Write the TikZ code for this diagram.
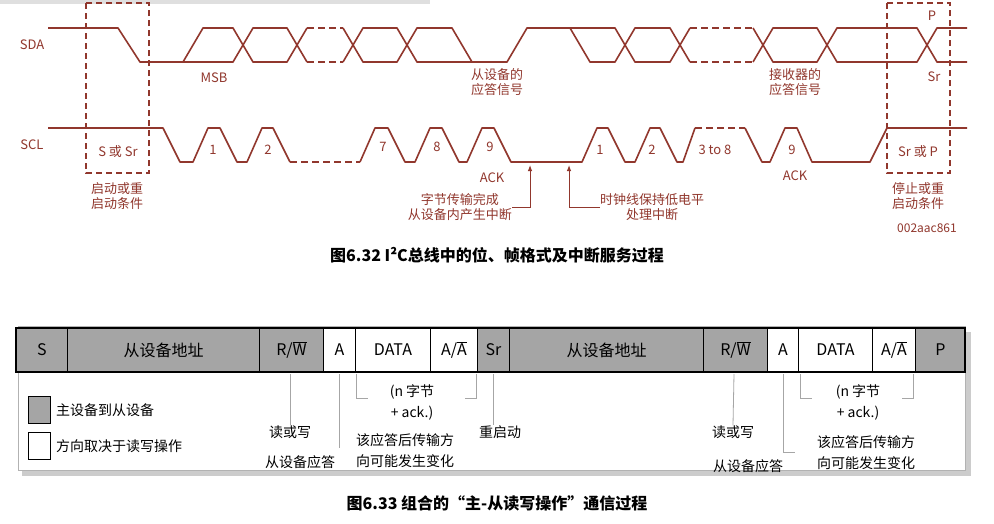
\documentclass[tikz,border=0pt]{standalone}
\usepackage{fontspec}
\setmainfont{Noto Sans CJK SC}
\usetikzlibrary{arrows.meta}
\definecolor{wave}{RGB}{145,55,45}
\definecolor{cellg}{RGB}{165,165,165}
\newcommand\rwtxt{R/$\overline{\hbox{W}}$}
\newcommand\aatxt{A/$\overline{\hbox{A}}$}
\begin{document}
\begin{tikzpicture}[x=1pt,y=-1pt,
  w/.style={draw=wave,line width=1.6pt,line join=round},
  wd/.style={w,dash pattern=on 7pt off 4pt},
  box/.style={draw=wave,line width=1.2pt,dash pattern=on 6pt off 4pt},
  wl/.style={text=wave,font=\fontsize{13}{15}\selectfont,align=center,inner sep=0pt},
  cell/.style={draw=black,line width=1pt,minimum height=44pt,inner sep=0pt,font=\fontsize{16}{18}\selectfont},
  bl/.style={font=\fontsize{14}{21}\selectfont,align=center,inner sep=0pt},
  tk/.style={draw=gray!70,line width=0.8pt}]
\useasboundingbox (0,0) rectangle (994,523);
\fill[white] (0,0) rectangle (994,523);
\fill[gray!25] (0,0) rectangle (430,4);
% dashed boxes
\draw[box] (86,3) rectangle (149,173);
\draw[box] (887,3) rectangle (950,173);
% SDA
\draw[w] (48,28)--(118,28)--(140,62)--(183,62);
\draw[w] (183,62)--(203,28)--(233,28)--(253,62)--(287,62)--(307,28);
\draw[w] (183,62)--(233,62)--(253,28)--(287,28)--(307,62);
\draw[wd] (307,28)--(343,28); \draw[wd] (307,62)--(343,62);
\draw[w] (343,28)--(363,62)--(397,62)--(417,28)--(452,28)--(472,62)--(507,62)--(527,28)--(570,28);
\draw[w] (343,62)--(363,28)--(397,28)--(417,62)--(472,62);
\draw[w] (570,28)--(590,62)--(615,62)--(635,28)--(670,28)--(690,62);
\draw[w] (570,28)--(615,28)--(635,62)--(670,62)--(690,28);
\draw[wd] (690,28)--(753,28); \draw[wd] (690,62)--(753,62);
\draw[w] (753,62)--(773,28)--(817,28)--(837,62)--(917,62)--(937,28)--(967,28);
\draw[w] (753,28)--(773,62)--(817,62)--(837,28)--(917,28)--(937,62)--(967,62);
% SCL
\draw[w] (48,128)--(163,128)--(180,162)--(193,162)--(208,128)--(220,128)--(237,162)--(247,162)--(262,128)--(273,128)--(290,162);
\draw[wd] (290,162)--(360,162);
\draw[w] (360,162)--(375,128)--(388,128)--(405,162)--(415,162)--(430,128)--(442,128)--(459,162)--(467,162)--(482,128)--(494,128)--(511,162)--(582,162)--(597,128)--(608,128)--(625,162)--(635,162)--(650,128)--(660,128)--(677,162)--(683,162)--(695,128);
\draw[wd] (695,128)--(745,128);
\draw[w] (745,128)--(762,162)--(770,162)--(785,128)--(797,128)--(812,162)--(870,162)--(887,128)--(967,128);
% labels
\node[wl] (sda) at (32,45) {SDA};
\node[wl] (scl) at (32,145) {SCL};
\node[wl] (msb) at (214,78) {MSB};
\node[wl] (sack) at (497,82) {从设备的\\应答信号};
\node[wl] (rack) at (795,82) {接收器的\\应答信号};
\node[wl] (p) at (932,16) {P};
\node[wl] (sr) at (934,77) {Sr};
\node[wl] (ssr) at (118,152) {S 或 Sr};
\node[wl] (srp) at (918,152) {Sr 或 P};
\node[wl] (c1) at (213,150) {1};
\node[wl] (c2) at (268,150) {2};
\node[wl] (c7) at (383,147) {7};
\node[wl] (c8) at (437,147) {8};
\node[wl] (c9) at (490,147) {9};
\node[wl] (ack1) at (492,178) {ACK};
\node[wl] (d1) at (600,150) {1};
\node[wl] (d2) at (652,150) {2};
\node[wl] (d38) at (715,150) {3 to 8};
\node[wl] (d9) at (792,150) {9};
\node[wl] (ack2) at (795,176) {ACK};
\node[wl] (start) at (117,196) {启动或重\\启动条件};
\node[wl] (stop) at (918,196) {停止或重\\启动条件};
\node[wl,font=\fontsize{12}{14}\selectfont\itshape] (code) at (927,228) {002aac861};
\node[wl,anchor=east] (int1) at (512,207) {字节传输完成\\从设备内产生中断};
\node[wl,anchor=west] (int2) at (600,207) {时钟线保持低电平\\处理中断};
\coordinate (a1t) at (530,165);
\coordinate (a2t) at (569,165);
\draw[draw=wave,line width=1pt,-{Latex[length=6pt]}] (int1.east) -- ++(18,0) -- (a1t);
\draw[draw=wave,line width=1pt,-{Latex[length=6pt]}] (int2.west) -- ++(-31,0) -- (a2t);
\node[font=\fontsize{16}{18}\selectfont\bfseries] (cap1) at (497,255) {图6.32 I²C总线中的位、帧格式及中断服务过程};
% frame
\fill[gray!40] (22,332) rectangle (971,476);
\fill[white,draw=gray!60] (18,326) rectangle (965,470);
\foreach \a/\b/\t/\c/\n in {16/67/S/cellg/s1,67/259/从设备地址/cellg/s2,259/323/\rwtxt/cellg/s3,323/355/A/white/s4,355/430/DATA/white/s5,430/477/\aatxt/white/s6,477/509/Sr/cellg/s7,509/703/从设备地址/cellg/s8,703/767/\rwtxt/cellg/s9,767/798/A/white/s10,798/872/DATA/white/s11,872/915/\aatxt/white/s12,915/965/P/cellg/s13}{
  \node[cell,fill=\c,minimum width=\b pt-\a pt,anchor=west] (\n) at (\a,350) {\t};
}
\draw[black,line width=1.2pt] (16,328) rectangle (965,372);
% legend
\node[draw=black,line width=1pt,fill=cellg,minimum width=22pt,minimum height=27pt,inner sep=0pt] (lg1) at (39,410) {};
\node[draw=black,line width=1pt,fill=white,minimum width=22pt,minimum height=27pt,inner sep=0pt] (lg2) at (39,446) {};
\node[bl,anchor=west] (lt1) at (56,410) {主设备到从设备};
\node[bl,anchor=west] (lt2) at (56,446) {方向取决于读写操作};
% annotations left
\node[bl] (rw1) at (290,432) {读或写};
\node[bl] (sa1) at (300,462) {从设备应答};
\node[bl] (ch1) at (405,451) {该应答后传输方\\向可能发生变化};
\node[bl] (nb1) at (412,402) {(n 字节\\+ ack.)};
\node[bl] (rs) at (500,432) {重启动};
\draw[tk] (290,374) -- (rw1.north);
\draw[tk] (339,374) -- (339,448);
\draw[tk] (356,374) -- (356,398) -- (368,398);
\draw[tk] (476,374) -- (476,398) -- (465,398);
\draw[tk] (493,374) -- (rs.north -| 493,0);
% annotations right
\node[bl] (rw2) at (733,432) {读或写};
\node[bl] (sa2) at (748,466) {从设备应答};
\node[bl] (ch2) at (866,453) {该应答后传输方\\向可能发生变化};
\node[bl] (nb2) at (858,402) {(n 字节\\+ ack.)};
\draw[tk] (734,374) -- (rw2.north);
\draw[tk] (783,374) -- (783,452) -- (795,452);
\draw[tk] (800,374) -- (800,398) -- (812,398);
\draw[tk] (913,374) -- (913,398) -- (902,398);
\node[font=\fontsize{16}{18}\selectfont\bfseries] (cap2) at (497,503) {图6.33 组合的“主-从读写操作”通信过程};
\end{tikzpicture}
\end{document}
